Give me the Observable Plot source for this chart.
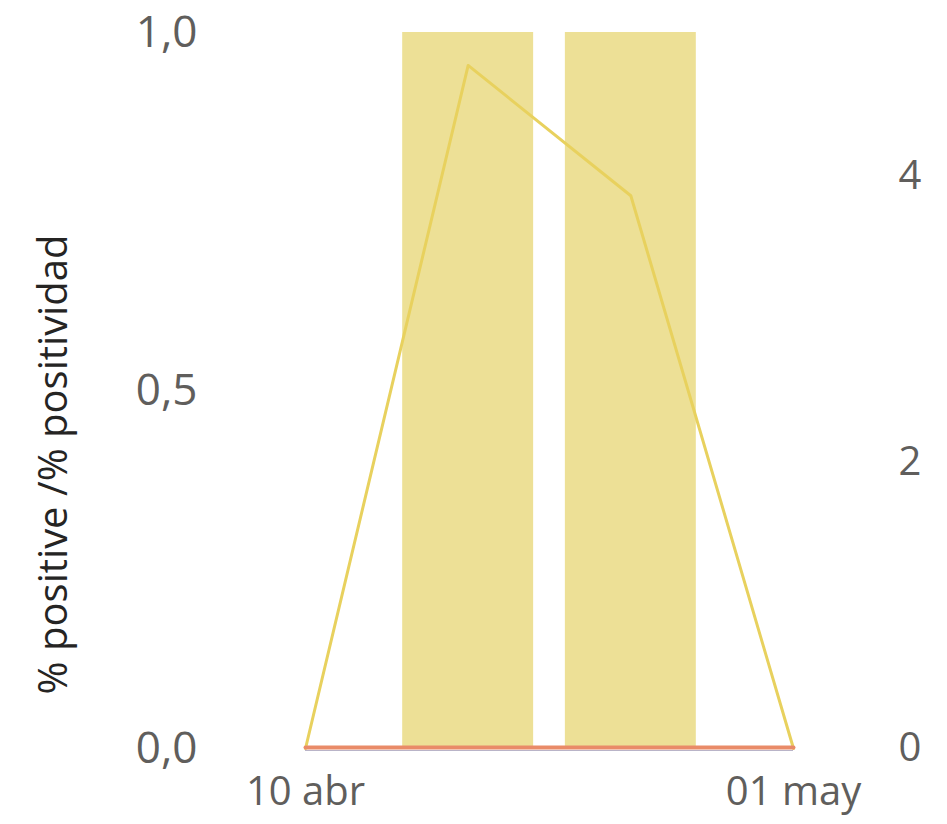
<!DOCTYPE html>
<html>
<head>
<meta charset="utf-8">
<script src="https://cdn.jsdelivr.net/npm/d3@7"></script>
<script src="https://cdn.jsdelivr.net/npm/@observablehq/plot@0.6"></script>
<style>
  html, body { margin: 0; padding: 0; background: #fff; }
  #chart svg { display: block; }
</style>
</head>
<body>
<div id="chart"></div>
<script>
// ---- Data ----
const weeks = ["2023-04-10", "2023-04-17", "2023-04-24", "2023-05-01"];
const lineCounts = [0, 4.77, 3.86, 0];          // right-axis units
const positivity = [0, 0, 0, 0];                 // left-axis units (%)
const barWeeks = ["2023-04-17", "2023-04-24"];
const barCounts = [5, 5];                        // right-axis units
const xTickDates = ["2023-04-10", "2023-05-01"];
const xTickLabels = ["10 abr", "01 may"];
const leftTicks = [0, 0.5, 1];
const rightTicks = [0, 2, 4];
const rightMax = 5;
const yTitle = "% positive /% positividad";

// ---- Build tables ----
const parse = d3.utcParse("%Y-%m-%d");
const DAY = 864e5;
const halfBar = 0.4025 * 7 * DAY;
const bars = barWeeks.map((w, i) => ({date: parse(w), count: barCounts[i]}));
const line = weeks.map((w, i) => ({date: parse(w), count: lineCounts[i], pos: positivity[i]}));
const tickDates = xTickDates.map(parse);
const labelFor = new Map(tickDates.map((d, i) => [+d, xTickLabels[i]]));

const font = "'Open Sans', 'Noto Sans', sans-serif";

const chart = Plot.plot({
  width: 947,
  height: 824,
  marginLeft: 305,
  marginRight: 154,
  marginTop: 32,
  marginBottom: 76,
  style: {fontFamily: font, background: "#fff"},
  x: {type: "utc", domain: [parse(weeks[0]), parse(weeks[weeks.length - 1])]},
  y: {domain: [0, 1]},
  marks: [
    Plot.rectY(bars, {
      x1: d => new Date(+d.date - halfBar),
      x2: d => new Date(+d.date + halfBar),
      y: d => d.count / rightMax,
      fill: "#EDE096"
    }),
    Plot.ruleY([0], {stroke: "#B9B4C8", strokeWidth: 1, dy: 2}),
    Plot.line(line, {x: "date", y: d => d.count / rightMax, stroke: "#E8D15E", strokeWidth: 3, strokeLinejoin: "round"}),
    Plot.line(line, {x: "date", y: "pos", stroke: "#E98B68", strokeWidth: 4, dy: -1}),
    Plot.axisX({
      ticks: tickDates, tickSize: 0, tickPadding: 28,
      tickFormat: d => labelFor.get(+d),
      fontSize: 40, fill: "#605E5C", label: null
    }),
    Plot.axisY({
      anchor: "left", ticks: leftTicks, tickSize: 0, tickPadding: 108,
      tickFormat: d => d.toFixed(1).replace(".", ","),
      fontSize: 44, fill: "#605E5C", label: null
    }),
    Plot.axisY({
      anchor: "right", ticks: rightTicks.map(v => v / rightMax), tickSize: 0, tickPadding: 105,
      tickFormat: d => String(Math.round(d * rightMax)),
      fontSize: 40, fill: "#605E5C", label: null
    }),
    Plot.text([yTitle], {
      frameAnchor: "left", rotate: -90, dx: -251, dy: 74,
      textAnchor: "middle", lineAnchor: "middle",
      fontSize: 40, fill: "#252423", text: d => d
    })
  ]
});
document.getElementById("chart").appendChild(chart);
</script>
</body>
</html>
